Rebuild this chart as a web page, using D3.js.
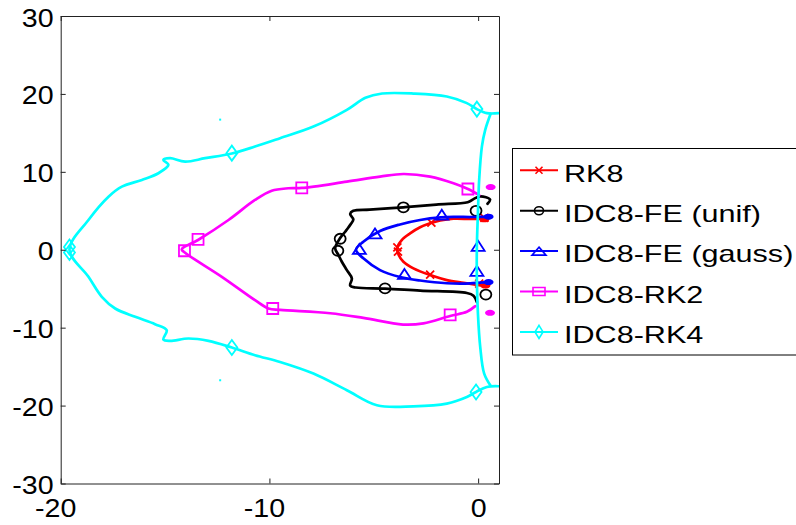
<!DOCTYPE html>
<html><head><meta charset="utf-8">
<script src="https://cdn.jsdelivr.net/npm/d3@7"></script>
<style>
body{margin:0;background:#fff}
svg{display:block}
text{font-family:"Liberation Sans",Arial,Helvetica,sans-serif;fill:#000}
</style>
</head><body>
<svg id="c" width="796" height="525"></svg>
<script>
// ---------------- DATA ----------------
const xTicks = [-20, -10, 0];
const yTicks = [-30, -20, -10, 0, 10, 20, 30];
const seriesNames = ['RK8', 'IDC8-FE (unif)', 'IDC8-FE (gauss)', 'IDC8-RK2', 'IDC8-RK4'];

const rk8Curve = [[0.45,3.95],[0.1,3.97],[-0.38,3.95],[-1.18,3.98],[-1.82,3.75],[-2.3,3.39],[-2.78,2.88],[-3.26,2.1],[-3.66,1.25],[-3.88,0.2],[-3.8,-0.7],[-3.58,-1.54],[-3.1,-2.39],[-2.3,-3.25],[-1.5,-3.89],[-0.7,-4.24],[-0.06,-4.5],[0.45,-4.7]];
const rk8Marks = [[-3.87,0.3],[-3.84,-0.25],[-2.24,3.47],[-2.3,-3.2],[0.3,4.1],[0.05,-4.35]];
const rk8Clusters = [[0.3,3.9],[0.35,-4.6]];

const unifCurve = [[0.45,5.9],[0.57,6.45],[0.1,6.85],[-0.22,6.5],[-0.5,6.1],[-2.0,5.8],[-3.58,5.45],[-5.2,5.15],[-5.98,5.0],[-6.13,4.6],[-5.98,3.9],[-6.1,3.3],[-6.37,2.31],[-6.61,1.5],[-6.85,0.18],[-6.69,-0.68],[-6.53,-1.54],[-6.29,-2.61],[-6.05,-3.68],[-6.13,-4.6],[-5.85,-4.85],[-4.46,-4.98],[-2.78,-5.25],[-0.54,-5.55],[-0.22,-5.9],[-0.06,-6.7]];
const unifMarks = [[-3.58,5.45],[-0.1,5.0],[-6.61,1.41],[-6.72,-0.13],[-4.46,-4.96],[0.37,-5.75]];

const gaussCurve = [[0.6,4.25],[0.1,4.22],[-0.38,4.2],[-1.18,4.22],[-1.79,4.15],[-2.78,3.82],[-3.74,3.25],[-4.7,2.4],[-5.5,1.03],[-5.85,0.0],[-5.5,-1.1],[-4.7,-2.61],[-3.74,-3.5],[-2.78,-3.95],[-1.5,-4.3],[-0.38,-4.32],[0.1,-4.22],[0.6,-4.15]];
const gaussMarks = [[-5.69,0.1],[-4.94,2.1],[-1.74,4.5],[0,0.5],[-0.06,-2.7],[-3.53,-3.1]];
const gaussClusters = [[0.5,4.25],[0.5,-4.15]];

const rk2Curve = [[0.05,7.0],[-0.46,7.76],[-1.18,8.53],[-2.3,9.38],[-3.58,9.72],[-4.7,9.38],[-6.29,8.74],[-8.45,7.93],[-9.09,7.89],[-9.89,7.58],[-10.69,6.39],[-11.96,3.82],[-13.42,1.25],[-14.2,0.05],[-14.04,-0.39],[-12.28,-3.47],[-10.69,-6.47],[-10.05,-7.54],[-9.49,-7.72],[-7.09,-8.15],[-5.5,-8.75],[-3.6,-9.6],[-2.62,-9.45],[-1.34,-8.5],[-0.54,-7.97],[-0.14,-7.24]];
const rk2Marks = [[-14.07,-0.13],[-13.42,1.34],[-8.45,7.95],[-0.49,7.8],[-9.84,-7.54],[-1.34,-8.35]];
const rk2Clusters = [[0.6,8.05],[0.57,-8.1]];

const rk4Outer = [[0.97,17.53],[0.42,17.53],[-0.06,18.05],[-0.54,18.82],[-1.5,19.67],[-3.1,20.05],[-4.6,20.05],[-5.4,19.5],[-6.29,17.96],[-7.89,15.81],[-9.49,14.32],[-10.69,13.24],[-11.8,12.35],[-13.08,11.75],[-14.04,11.31],[-14.76,11.75],[-15.08,11.53],[-14.84,10.89],[-15.32,9.82],[-16.11,8.96],[-17.07,8.1],[-17.71,6.81],[-18.67,3.82],[-19.58,0],[-18.67,-3.47],[-18.03,-6.04],[-17.39,-7.54],[-16.43,-8.61],[-15.48,-9.55],[-14.92,-10.32],[-15.08,-11.52],[-14.76,-11.7],[-13.88,-11.39],[-12.92,-11.7],[-11.8,-12.55],[-10.69,-13.53],[-9.49,-14.4],[-7.89,-15.89],[-6.29,-18.03],[-4.85,-19.96],[-3.1,-20.09],[-1.5,-19.74],[-0.54,-18.89],[-0.1,-18.25],[0.42,-17.61],[0.97,-17.52]];
const rk4Inner = [[0.6,17.45],[0.34,15.39],[0.18,13.24],[0.05,8.96],[-0.01,4.68],[-0.06,0.39],[-0.06,-3.9],[-0.01,-8.17],[0.1,-12.47],[0.29,-15.89],[0.6,-17.45]];
const rk4Marks = [[-19.58,0.35],[-19.58,-0.35],[-11.8,12.4],[-0.06,18.05],[-11.8,-12.55],[-0.1,-18.25]];
const rk4Specks = [[-12.36,16.7],[-12.36,-16.75]];

// ---------------- STYLE ----------------
const series = [
  {name: seriesNames[0], color: '#ff0000', sym: 'x', curves: [rk8Curve], marks: rk8Marks, clusters: rk8Clusters, specks: []},
  {name: seriesNames[1], color: '#000000', sym: 'o', curves: [unifCurve], marks: unifMarks, clusters: [], specks: []},
  {name: seriesNames[2], color: '#0000ff', sym: '^', curves: [gaussCurve], marks: gaussMarks, clusters: gaussClusters, specks: []},
  {name: seriesNames[3], color: '#ff00ff', sym: 's', curves: [rk2Curve], marks: rk2Marks, clusters: rk2Clusters, specks: []},
  {name: seriesNames[4], color: '#00ffff', sym: 'd', curves: [rk4Outer, rk4Inner], marks: rk4Marks, clusters: [], specks: rk4Specks}
];
const plotSize = {x: [8, 8], o: [11, 10], '^': [13, 10], s: [11, 11], d: [11, 15]};
const legSize = {x: [7, 7], o: [9, 8], '^': [14, 8], s: [12, 8], d: [8, 13]};

function markerPath(t, w, h) {
  const a = w / 2, b = h / 2;
  switch (t) {
    case 'x': return `M${-a},${-b}L${a},${b}M${-a},${b}L${a},${-b}`;
    case 'o': return `M${-a},0A${a},${b} 0 1 0 ${a},0A${a},${b} 0 1 0 ${-a},0Z`;
    case 's': return `M${-a},${-b}H${a}V${b}H${-a}Z`;
    case '^': return `M0,${-b}L${a},${b}L${-a},${b}Z`;
    case 'd': return `M0,${-b}L${a},0L0,${b}L${-a},0Z`;
  }
}

// ---------------- CHART ----------------
const W = 796, H = 525;
const x = d3.scaleLinear().domain([-20, 1]).range([60.7, 499]);
const y = d3.scaleLinear().domain([-30, 30]).range([483.5, 16]);
const svg = d3.select('#c');
svg.append('rect').attr('width', W).attr('height', H).attr('fill', '#fff');

svg.append('defs').append('clipPath').attr('id', 'clip').append('rect')
  .attr('x', x(-20)).attr('y', y(30)).attr('width', x(1) - x(-20)).attr('height', y(-30) - y(30));

const plot = svg.append('g').attr('clip-path', 'url(#clip)');
const line = d3.line().x(d => x(d[0])).y(d => y(d[1])).curve(d3.curveCatmullRom.alpha(0.5));

series.forEach(s => {
  const g = plot.append('g');
  s.curves.forEach(c => {
    g.append('path').attr('d', line(c)).attr('fill', 'none').attr('stroke', s.color)
      .attr('stroke-width', 2.7).attr('stroke-linejoin', 'round').attr('stroke-linecap', 'round');
  });
  s.clusters.forEach(p => {
    g.append('ellipse').attr('cx', x(p[0])).attr('cy', y(p[1])).attr('rx', 5).attr('ry', 3).attr('fill', s.color);
  });
  s.specks.forEach(p => {
    g.append('rect').attr('x', x(p[0]) - 1).attr('y', y(p[1]) - 1).attr('width', 2).attr('height', 2).attr('fill', s.color);
  });
  const [mw, mh] = plotSize[s.sym];
  g.selectAll('path.mk').data(s.marks).enter().append('path').attr('class', 'mk')
    .attr('transform', d => `translate(${x(d[0])},${y(d[1])})`)
    .attr('d', markerPath(s.sym, mw, mh))
    .attr('fill', 'none').attr('stroke', s.color).attr('stroke-width', 1.8);
});

// axes
const fmt = d => String(d);
const axisColor = '#222';
const gx = svg.append('g').attr('transform', `translate(0,${y(-30)})`)
  .call(d3.axisBottom(x).tickValues(xTicks).tickSize(-5).tickSizeOuter(0).tickFormat(fmt));
gx.selectAll('text').attr('y', 34).attr('dy', null).attr('dx', d => d < 0 ? -5 : 0)
  .attr('transform', 'scale(1.1,1)').style('font-size', '26px');
const gy = svg.append('g').attr('transform', `translate(${x(-20)},0)`)
  .call(d3.axisLeft(y).tickValues(yTicks).tickSize(-5).tickSizeOuter(0).tickFormat(fmt));
gy.selectAll('text').attr('x', -6.5).attr('y', 10).attr('dy', null)
  .attr('transform', 'scale(1.1,1)').style('font-size', '26px');
const gt = svg.append('g').attr('transform', `translate(0,${y(30)})`)
  .call(d3.axisTop(x).tickValues(xTicks).tickSize(-5).tickSizeOuter(0).tickFormat(''));
const gr = svg.append('g').attr('transform', `translate(${x(1)},0)`)
  .call(d3.axisRight(y).tickValues(yTicks).tickSize(-5).tickSizeOuter(0).tickFormat(''));
[gx, gy, gt, gr].forEach(g => g.attr('color', axisColor).attr('font-family', null).attr('font-size', null));

// legend
const lg = svg.append('g');
lg.append('rect').attr('x', 512.5).attr('y', 148.5).attr('width', 320).attr('height', 206.5)
  .attr('fill', '#fff').attr('stroke', '#000').attr('stroke-width', 1);
series.forEach((s, i) => {
  const ry = 170.3 + i * 40.4;
  lg.append('line').attr('x1', 520).attr('x2', 558).attr('y1', ry).attr('y2', ry)
    .attr('stroke', s.color).attr('stroke-width', 2);
  const [lw, lh] = legSize[s.sym];
  lg.append('path').attr('transform', `translate(539,${ry})`).attr('d', markerPath(s.sym, lw, lh))
    .attr('fill', 'none').attr('stroke', s.color).attr('stroke-width', 1.6);
  lg.append('text').attr('transform', `translate(564,${ry + 11.3}) scale(1.33,1)`)
    .style('font-size', '23px').text(s.name);
});
</script>
</body></html>
